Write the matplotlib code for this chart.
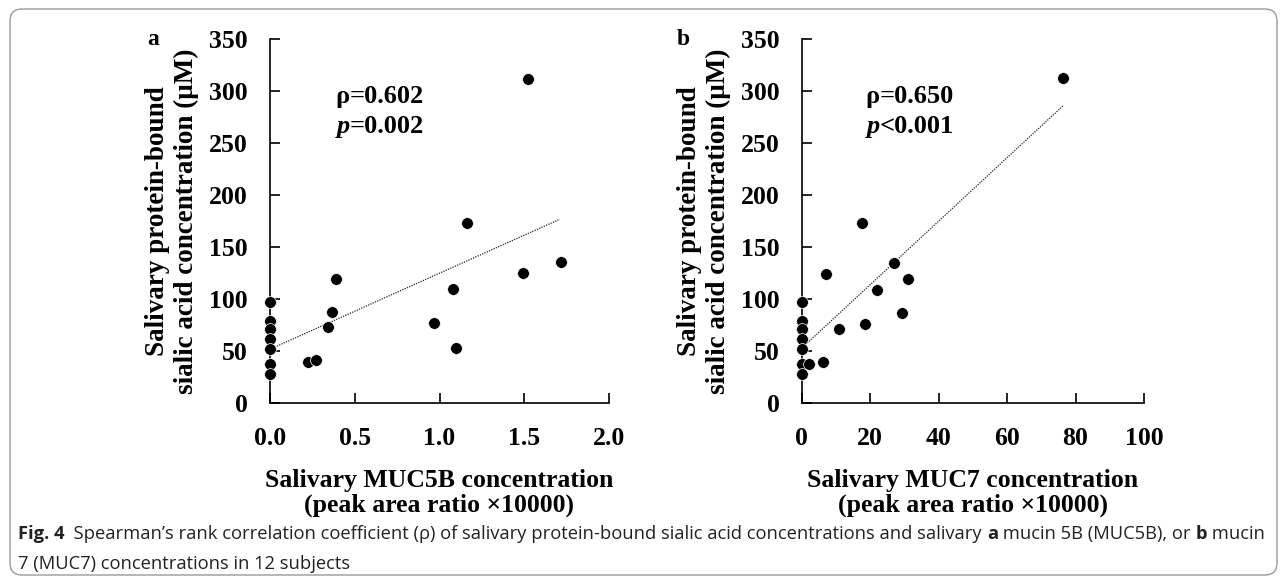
import matplotlib
matplotlib.use("Agg")
import matplotlib.pyplot as plt
from matplotlib import font_manager
from matplotlib.patches import FancyBboxPatch

# --- data ---
muc5b_x = [0, 0, 0, 0, 0, 0, 0, 0.225, 0.27, 0.345, 0.365, 0.39, 0.966, 1.08, 1.095, 1.16, 1.49, 1.52, 1.716]
muc5b_y = [97, 79, 71, 62, 52, 38, 28, 40, 41.5, 73, 88, 120, 77.5, 110, 53.5, 173, 125, 311.5, 136]
muc7_x = [0, 0, 0, 0, 0, 0, 0, 2.1, 6.3, 7.1, 10.8, 17.7, 18.6, 21.9, 27.1, 29.2, 31.2, 76.4]
muc7_y = [97, 79, 71, 62, 52, 38, 28, 37.5, 39.4, 124.6, 71.7, 173, 76, 109, 135, 87, 119.5, 312.8]

trend5b_x = [0, 1.71]
trend5b_y = [52, 177]
trend7_x = [0, 76.5]
trend7_y = [53, 286.5]

xticks_a = [0.0, 0.5, 1.0, 1.5, 2.0]
xticks_b = [0, 20, 40, 60, 80, 100]
yticks = [0, 50, 100, 150, 200, 250, 300, 350]

stats_a = ("ρ", "=0.602", "p", "=0.002")
stats_b = ("ρ", "=0.650", "p", "<0.001")

W, H = 1285, 584
SERIF = "Liberation Serif"


def pick_font(names):
    for n in names:
        try:
            font_manager.findfont(n, fallback_to_default=False)
            return n
        except Exception:
            continue
    return "DejaVu Sans"


SANS = pick_font(["Liberation Sans Narrow", "Open Sans", "Liberation Sans"])

fig = plt.figure(figsize=(W / 100, H / 100), dpi=100)


def px_axes(x0, x1, ytop, ybot):
    return fig.add_axes([x0 / W, 1 - ybot / H, (x1 - x0) / W, (ybot - ytop) / H])


def draw_panel(ax, xs, ys, tx, ty, xticks, xfmt, xlabel, letter, stats, stat_x):
    ax.plot(tx, ty, color="#222222", lw=0.9, linestyle=(0, (1, 1)), zorder=2)
    ax.scatter(xs, ys, s=72, color="black", edgecolor="white", linewidth=0.5, zorder=3, clip_on=False)
    ax.set_xlim(xticks[0], xticks[-1])
    ax.set_ylim(0, 350)
    ax.set_xticks(xticks)
    ax.set_xticklabels([xfmt(v) for v in xticks])
    ax.set_yticks(yticks)
    for s in ["top", "right"]:
        ax.spines[s].set_visible(False)
    for s in ["left", "bottom"]:
        ax.spines[s].set_linewidth(1.2)
    ax.tick_params(direction="in", length=7, width=1.2, labelsize=18.5)
    ax.tick_params(axis="y", pad=16)
    ax.tick_params(axis="x", pad=17)
    for lab in ax.get_xticklabels() + ax.get_yticklabels():
        lab.set_fontfamily(SERIF)
        lab.set_fontweight("bold")
    ax.set_xlabel(xlabel, fontsize=18.5, fontweight="bold", family=SERIF, labelpad=14, linespacing=1.05)
    ax.set_ylabel("Salivary protein-bound\nsialic acid concentration (μM)", fontsize=19.5,
                  fontweight="bold", family=SERIF, labelpad=7, linespacing=1.2)
    ax.text(-0.345, 1.0, letter, transform=ax.transAxes, fontsize=17, fontweight="bold",
            family=SERIF, ha="center", va="center")
    kw = dict(fontsize=19, fontweight="bold", family=SERIF, va="center")
    ax.text(stat_x, 295, stats[0], ha="right", **kw)
    ax.text(stat_x, 295, stats[1], ha="left", **kw)
    ax.text(stat_x, 266, stats[2], ha="right", style="italic", **kw)
    ax.text(stat_x, 266, stats[3], ha="left", **kw)


ax_a = px_axes(270, 609, 39.3, 403.3)
draw_panel(ax_a, muc5b_x, muc5b_y, trend5b_x, trend5b_y, xticks_a, lambda v: f"{v:.1f}",
           "Salivary MUC5B concentration\n(peak area ratio ×10000)", "a", stats_a, 0.47)

ax_b = px_axes(801.7, 1144, 39.3, 403.3)
draw_panel(ax_b, muc7_x, muc7_y, trend7_x, trend7_y, xticks_b, lambda v: f"{v:d}",
           "Salivary MUC7 concentration\n(peak area ratio ×10000)", "b", stats_b, 22.9)

# rounded frame round the whole figure
frame = FancyBboxPatch((0.1, 0.09), 12.67, 5.66, boxstyle="round,pad=0,rounding_size=0.12",
                       transform=fig.dpi_scale_trans, facecolor="none", edgecolor="#9a9a9a",
                       linewidth=1.0)
fig.patches.append(frame)

# caption, drawn piece by piece so bold words sit in the running text
renderer = fig.canvas.get_renderer()


def caption_line(segments, x, y, size=13.2):
    for txt, weight in segments:
        t = fig.text(x / W, 1 - y / H, txt, fontsize=size, fontweight=weight, family=SANS,
                     ha="left", va="center", color="#222222")
        bb = t.get_window_extent(renderer)
        x += bb.width


caption_line([("Fig. 4", "bold"),
              ("  Spearman’s rank correlation coefficient (ρ) of salivary protein-bound sialic acid "
               "concentrations and salivary ", "normal"),
              ("a", "bold"), (" mucin 5B (MUC5B), or ", "normal"), ("b", "bold"), (" mucin", "normal")],
             18, 534)
caption_line([("7 (MUC7) concentrations in 12 subjects", "normal")], 18, 564)

fig.savefig("out.png", dpi=100)
